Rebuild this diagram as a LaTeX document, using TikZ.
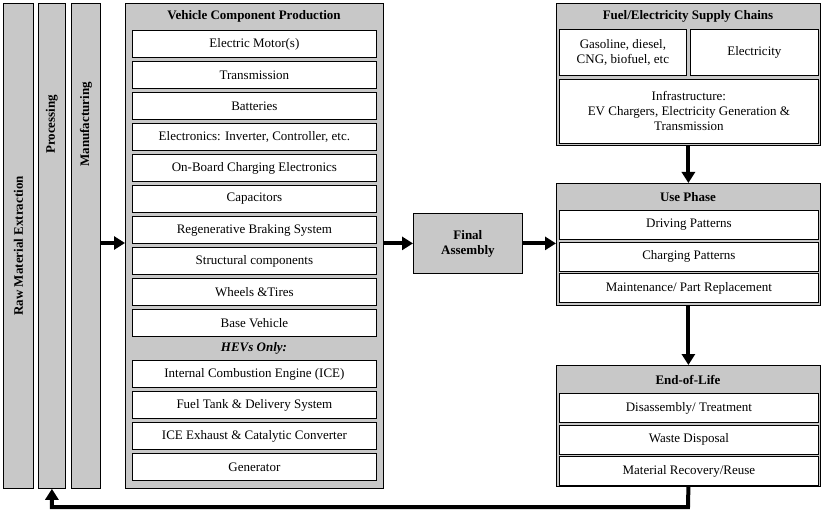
\documentclass[tikz,border=0pt]{standalone}
\usepackage{fontspec}
\setmainfont{Liberation Serif}
\usetikzlibrary{arrows.meta,positioning,calc}
\definecolor{panelgray}{RGB}{200,200,200}
\tikzset{
    % Define standard node styles
    panel/.style={
        rectangle, draw=black, thick, fill=panelgray, anchor=north west,
        inner sep=0pt
    },
    itembox/.style={
        rectangle, draw=black, thick, fill=white, anchor=north west,
        align=center, inner sep=0pt, font=\fontsize{13}{15}\selectfont
    },
    paneltitle/.style={
        font=\bfseries\fontsize{13}{15}\selectfont
    },
    flow/.style={
        -{Triangle[length=11pt,width=13pt]}, line width=4pt
    }
}
\begin{document}
\begin{tikzpicture}[x=1pt,y=-1pt]
\useasboundingbox (0,0) rectangle (822,516);

% Material columns
\node[panel, minimum width=30pt, minimum height=485pt] (raw) at (3,3) {};
\node[paneltitle, rotate=90] at (raw.center) {Raw Material Extraction};
\node[panel, minimum width=27pt, minimum height=485pt] (proc) at (38,3) {};
\node[paneltitle, rotate=90] at ($(proc.north)!0.25!(proc.south)$) {Processing};
\node[panel, minimum width=29pt, minimum height=485pt] (manu) at (71,3) {};
\node[paneltitle, rotate=90] at ($(manu.north)!0.25!(manu.south)$) {Manufacturing};

% Vehicle components
\node[panel, minimum width=258pt, minimum height=485pt] (vcp) at (125,3) {};
\node[paneltitle] at (254,16) {Vehicle Component Production};
\foreach \txt [count=\i] in {Electric Motor(s), Transmission, Batteries,
    {Electronics: Inverter, Controller, etc.}, On-Board Charging Electronics,
    Capacitors, Regenerative Braking System, Structural components,
    Wheels \&Tires, Base Vehicle}
  \node[itembox, minimum width=244pt, minimum height=27pt] (comp\i) at (132,{30+31*(\i-1)}) {\txt};
\node[font=\bfseries\itshape\fontsize{13}{15}\selectfont] (hev) at (254,348) {HEVs Only:};
\foreach \txt [count=\i] in {Internal Combustion Engine (ICE),
    Fuel Tank \& Delivery System, ICE Exhaust \& Catalytic Converter, Generator}
  \node[itembox, minimum width=244pt, minimum height=27pt] (hev\i) at (132,{360+31*(\i-1)}) {\txt};

% Final assembly
\node[panel, minimum width=109pt, minimum height=60pt] (final) at (413,213) {};
\node[paneltitle, align=center] at (final.center) {Final\\Assembly};

% Fuel supply
\node[panel, minimum width=264pt, minimum height=142pt] (fuel) at (556,3) {};
\node[paneltitle] at (688,16) {Fuel/Electricity Supply Chains};
\node[itembox, minimum width=127pt, minimum height=46pt] (gas) at (559,29) {Gasoline, diesel,\\CNG, biofuel, etc};
\node[itembox, minimum width=128pt, minimum height=46pt] (elec) at (690,29) {Electricity};
\node[itembox, minimum width=259pt, minimum height=64pt] (infra) at (559,79) {Infrastructure:\\EV Chargers, Electricity Generation \&\\Transmission};

% Use phase
\node[panel, minimum width=264pt, minimum height=122pt] (use) at (556,183) {};
\node[paneltitle] at (688,197) {Use Phase};
\foreach \txt [count=\i] in {Driving Patterns, Charging Patterns, Maintenance/ Part Replacement}
  \node[itembox, minimum width=259pt, minimum height=29pt] (use\i) at (559,{210+31.5*(\i-1)}) {\txt};

% End of life
\node[panel, minimum width=264pt, minimum height=121pt] (eol) at (556,365) {};
\node[paneltitle] at (688,380) {End-of-Life};
\foreach \txt [count=\i] in {Disassembly/ Treatment, Waste Disposal, Material Recovery/Reuse}
  \node[itembox, minimum width=259pt, minimum height=29pt] (eol\i) at (559,{393+31.5*(\i-1)}) {\txt};

% Arrows
\draw[flow] (manu.east |- 0,243) -- (vcp.west |- 0,243);
\draw[flow] (vcp.east |- final) -- (final.west);
\draw[flow] (final.east) -- (use.west |- final);
\draw[flow] (fuel.south) -- (use.north);
\draw[flow] (use.south) -- (eol.north);
\coordinate (turn) at (688,507);
\draw[flow] (eol.south) -- (turn) -| (proc.south);

\end{tikzpicture}
\end{document}
